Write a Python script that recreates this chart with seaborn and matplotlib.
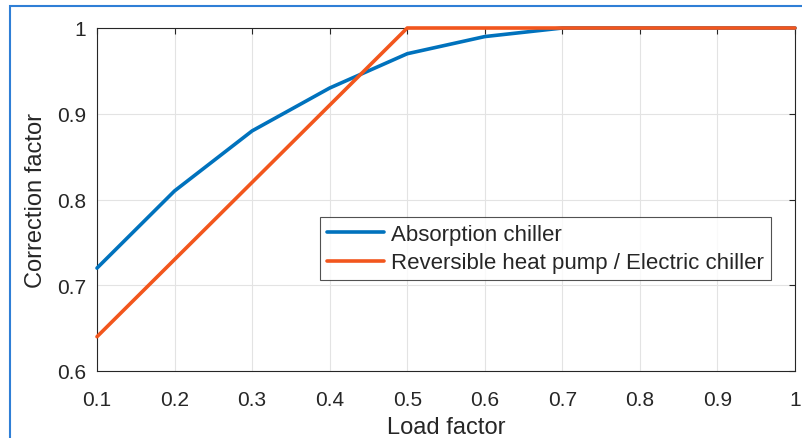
import pandas as pd
import matplotlib.pyplot as plt
import seaborn as sns
from matplotlib.patches import Rectangle

load = [0.1, 0.2, 0.3, 0.4, 0.5, 0.6, 0.7, 0.8, 0.9, 1.0]
absorption = [0.72, 0.81, 0.88, 0.93, 0.97, 0.99, 1.0, 1.0, 1.0, 1.0]
heat_pump = [0.64, 0.73, 0.82, 0.91, 1.0, 1.0, 1.0, 1.0, 1.0, 1.0]
labels = ['Absorption chiller', 'Reversible heat pump / Electric chiller']

df = pd.DataFrame({
    'Load factor': load * 2,
    'Correction factor': absorption + heat_pump,
    'series': [labels[0]] * len(load) + [labels[1]] * len(load),
})

sns.set_style('white')
plt.rcParams['font.family'] = ['Liberation Sans', 'DejaVu Sans']

fig = plt.figure(figsize=(8.02, 4.39), dpi=100)
ax = fig.add_axes([97 / 802, 1 - 372 / 439, 698 / 802, 343 / 439])

sns.lineplot(data=df, x='Load factor', y='Correction factor', hue='series',
             palette=['#0072BD', '#F2561D'], linewidth=2.6, ax=ax)
for ln in ax.lines:
    ln.set_clip_on(False)
    ln.set_zorder(3)

ax.set_xlim(0.1, 1)
ax.set_ylim(0.6, 1)
ax.set_xticks([0.1, 0.2, 0.3, 0.4, 0.5, 0.6, 0.7, 0.8, 0.9, 1])
ax.set_xticklabels(['0.1', '0.2', '0.3', '0.4', '0.5', '0.6', '0.7', '0.8', '0.9', '1'])
ax.set_yticks([0.6, 0.7, 0.8, 0.9, 1])
ax.set_yticklabels(['0.6', '0.7', '0.8', '0.9', '1'])
ax.grid(True, color='#e3e3e3', linewidth=0.8)
ax.tick_params(direction='in', length=4, width=0.8, color='#262626',
               labelsize=15, labelcolor='#262626', top=True, right=True)
ax.tick_params(axis='x', pad=14)
ax.tick_params(axis='y', pad=8)
for s in ax.spines.values():
    s.set_color('#262626')
    s.set_linewidth(0.8)
ax.set_xlabel('Load factor', fontsize=17, color='#262626', labelpad=5)
ax.set_ylabel('Correction factor', fontsize=17, color='#262626', labelpad=7)

leg = ax.legend(loc='upper left', fontsize=16, frameon=True, fancybox=False,
                borderpad=0.3, handlelength=2.6, handletextpad=0.3, labelspacing=0.35,
                borderaxespad=0)
leg.set_bbox_to_anchor((320 / 802, 1 - 218 / 439), transform=fig.transFigure)
leg.get_frame().set_edgecolor('#262626')
leg.get_frame().set_linewidth(0.8)
for h in leg.get_lines():
    h.set_linewidth(2.6)

fig.patches.append(Rectangle((10 / 802, -0.1), 1.0, 1 - 7 / 439 + 0.1, transform=fig.transFigure,
                             fill=False, edgecolor='#2f7fd6', linewidth=1.5))

fig.savefig('out.png', dpi=100)
